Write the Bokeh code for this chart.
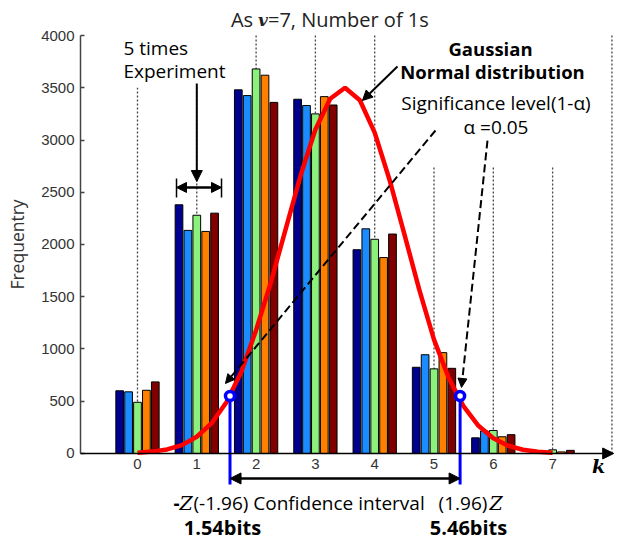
from bokeh.plotting import figure
from bokeh.models import LinearAxis, FixedTicker, Range1d, Arrow, NormalHead
from bokeh.core.properties import value
from bokeh.embed import file_html
from bokeh.resources import INLINE

# ---------------- data ----------------
k_values = [0, 1, 2, 3, 4, 5, 6, 7]
exp1 = [600, 2380, 3480, 3390, 1950, 825, 150, 5]
exp2 = [590, 2135, 3425, 3330, 2150, 945, 215, 10]
exp3 = [490, 2280, 3680, 3250, 2050, 810, 220, 35]
exp4 = [605, 2125, 3620, 3415, 1875, 965, 160, 15]
exp5 = [685, 2300, 3360, 3335, 2100, 815, 180, 30]
experiments = [exp1, exp2, exp3, exp4, exp5]
bar_colors = ["#00008f", "#1a8cff", "#8cf07c", "#ff8000", "#800000"]

curve_k = [0, 0.25, 0.5, 0.75, 1, 1.25, 1.5, 1.75, 2, 2.25, 2.5, 2.75, 3, 3.25, 3.5,
           3.75, 4, 4.25, 4.5, 4.75, 5, 5.25, 5.5, 5.75, 6, 6.25, 6.5, 6.75, 7]
curve_freq = [8, 18, 39, 80, 160, 290, 490, 780, 1180, 1640, 2150, 2660, 3100, 3395, 3500,
              3380, 3070, 2620, 2100, 1570, 1090, 720, 450, 265, 145, 75, 36, 16, 6]

y_ticks = [0, 500, 1000, 1500, 2000, 2500, 3000, 3500, 4000]
x_ticks = [0, 1, 2, 3, 4, 5, 6, 7]
guide_k = [0, 1, 2, 3, 4, 5, 6, 7, 8]
guide_top = [3500, 3500, 4000, 4000, 4000, 2750, 2750, 2750, 4000]

ci_low, ci_high = 1.56, 5.44
ci_freq = 550

# ---------------- figure ----------------
p = figure(width=619, height=544, output_backend="svg", toolbar_location=None,
           x_range=Range1d(-2.310, 8.128), y_range=Range1d(-871, 4335),
           x_axis_location=None, y_axis_location=None,
           min_border=0, min_border_left=0, min_border_right=0,
           min_border_top=0, min_border_bottom=0)
p.outline_line_color = None
p.xgrid.visible = False
p.ygrid.visible = False
p.background_fill_color = "white"

yaxis = LinearAxis(fixed_location=-0.96, bounds=(0, 4000), ticker=FixedTicker(ticks=y_ticks),
                   axis_label="Frequentry")
yaxis.major_tick_in = 4
yaxis.major_tick_out = 0
yaxis.minor_tick_line_color = None
yaxis.axis_line_color = "#444444"
yaxis.axis_line_width = 1.5
yaxis.major_tick_line_color = "#444444"
yaxis.major_tick_line_width = 1.5
yaxis.major_label_text_font = "Liberation Sans"
yaxis.major_label_text_font_size = "15px"
yaxis.major_label_text_color = "#333333"
yaxis.major_label_standoff = 6
yaxis.axis_label_text_font = "Open Sans"
yaxis.axis_label_text_font_size = "17.5px"
yaxis.axis_label_text_font_style = "normal"
yaxis.axis_label_text_color = "#333333"
yaxis.axis_label_standoff = 9
p.add_layout(yaxis, "left")

xaxis = LinearAxis(fixed_location=0, ticker=FixedTicker(ticks=x_ticks))
xaxis.axis_line_color = None
xaxis.major_tick_in = 0
xaxis.major_tick_out = 0
xaxis.minor_tick_line_color = None
xaxis.major_label_text_font = "Liberation Sans"
xaxis.major_label_text_font_size = "15px"
xaxis.major_label_text_color = "#333333"
xaxis.major_label_standoff = 6
p.add_layout(xaxis, "below")

# dotted guide lines
p.segment(x0=guide_k, y0=[0] * len(guide_k), x1=guide_k, y1=guide_top,
          line_color="#444444", line_width=1.3, line_dash="2 2")

# bars
offsets = [-0.3, -0.15, 0.0, 0.15, 0.3]
for off, vals, col in zip(offsets, experiments, bar_colors):
    p.vbar(x=[k + off for k in k_values], top=vals, width=0.13, bottom=0,
           fill_color=col, line_color="black", line_width=1)

# x axis with arrow
p.add_layout(Arrow(x_start=-0.96, y_start=0, x_end=8.03, y_end=0, line_width=1.5,
                   line_color="black",
                   end=NormalHead(size=11, fill_color="black", line_color="black")))

# gaussian curve
p.line(curve_k, curve_freq, line_color="#ff0000", line_width=4.5)

# confidence limits
p.segment(x0=[ci_low, ci_high], y0=[ci_freq, ci_freq], x1=[ci_low, ci_high], y1=[-297, -297],
          line_color="#0000ff", line_width=3)
p.scatter([ci_low, ci_high], [ci_freq, ci_freq], size=9, line_color="#0000ff",
          line_width=3.5, fill_color="white")
p.add_layout(Arrow(x_start=ci_low, y_start=-239, x_end=ci_high, y_end=-239, line_width=2.5,
                   start=NormalHead(size=11, fill_color="black"),
                   end=NormalHead(size=11, fill_color="black")))

# "5 times experiment" arrows
p.add_layout(Arrow(x_start=1.0, y_start=3541, x_end=1.0, y_end=2603, line_width=2,
                   end=NormalHead(size=11, fill_color="black")))
p.add_layout(Arrow(x_start=0.658, y_start=2546, x_end=1.417, y_end=2546, line_width=2.5,
                   start=NormalHead(size=10, fill_color="black"),
                   end=NormalHead(size=10, fill_color="black")))
p.segment(x0=[0.658, 1.417], y0=[2632, 2632], x1=[0.658, 1.417], y1=[2450, 2450],
          line_color="black", line_width=1.5)

# arrow to curve
p.add_layout(Arrow(x_start=4.384, y_start=3704, x_end=3.794, y_end=3378, line_width=2,
                   end=NormalHead(size=10, fill_color="black")))
# dashed arrows to limits
p.add_layout(Arrow(x_start=5.025, y_start=3091, x_end=1.484, y_end=670, line_width=2,
                   line_dash="8 4", end=NormalHead(size=9, fill_color="black")))
p.add_layout(Arrow(x_start=5.902, y_start=2995, x_end=5.464, y_end=632, line_width=2,
                   line_dash="8 4", end=NormalHead(size=9, fill_color="black")))

FONT = value("Open Sans")
SERIF = value("DejaVu Serif")

def txt(x, y, s, size="19px", align="left", style="normal", font=FONT, color="black"):
    p.text(x=[x], y=[y], text=[s], text_font=font, text_font_size=size,
           text_align=align, text_baseline="middle", text_font_style=style,
           text_color=color)

# title
txt(1.95, 4153, "As", size="20px", color="#222222", align="right")
txt(2.115, 4153, "v", size="17px", style="bold italic", font=SERIF, color="#222222", align="center")
txt(2.20, 4153, "=7, Number of 1s", size="20px", color="#222222")

txt(-0.236, 3885, "5 times")
txt(-0.236, 3656, "Experiment")
txt(5.953, 3876, "Gaussian", size="18.5px", style="bold", align="center")
txt(5.987, 3656, "Normal distribution", size="18.5px", style="bold", align="center")
txt(6.045, 3350, "Significance level(1-\u03b1)", align="center")
txt(6.045, 3120, "\u03b1 =0.05", align="center")

# bottom annotations
txt(0.658, -478, "-", style="bold", align="center")
txt(0.818, -478, "Z", font=SERIF, style="italic", align="center")
txt(0.944, -478, "(-1.96) Confidence interval")
txt(5.90, -478, "(1.96)", align="right")
txt(5.936, -478, "Z", font=SERIF, style="italic")
txt(1.433, -708, "1.54bits", size="20px", style="bold", align="center")
txt(5.582, -708, "5.46bits", size="20px", style="bold", align="center")
txt(7.774, -124, "k", size="19px", font=SERIF, style="bold italic", align="center")

open("out.html", "w").write(file_html(p, INLINE))
